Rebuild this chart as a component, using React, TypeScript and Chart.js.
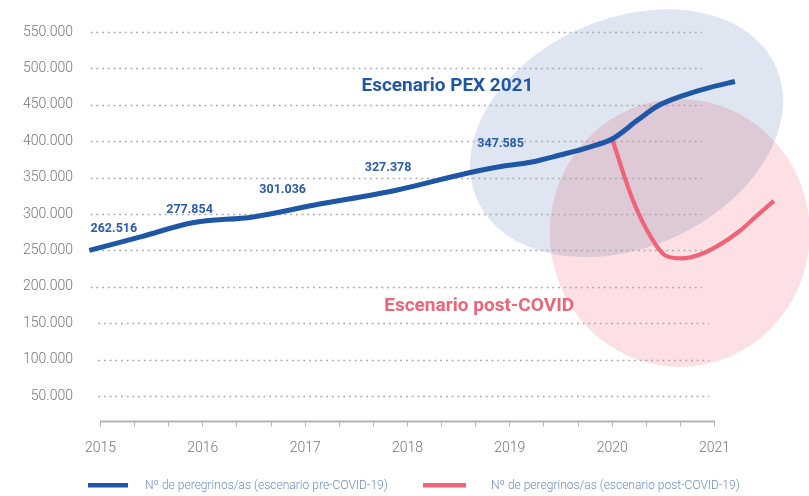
import React, { useEffect, useRef } from "react";
import { Chart, registerables } from "chart.js";

Chart.register(...registerables);

// ---------- data ----------
const yearLabels = [2015, 2016, 2017, 2018, 2019, 2020, 2021];
const yTickValues = [50000, 100000, 150000, 200000, 250000, 300000, 350000, 400000, 450000, 500000, 550000];

const preCovidYears = [2014.89, 2015.4, 2015.9, 2016.49, 2017.08, 2017.9, 2018.58, 2018.9, 2019.2, 2019.49, 2019.78, 2020.0, 2020.25, 2020.44, 2020.7, 2020.96, 2021.2];
const preCovidValues = [250000, 269000, 288000, 296000, 312000, 333000, 356000, 365000, 371000, 381000, 392000, 403000, 429000, 448000, 463000, 474000, 482000];

const postCovidYears = [2020.0, 2020.2, 2020.38, 2020.52, 2020.68, 2020.85, 2021.04, 2021.24, 2021.42, 2021.58];
const postCovidValues = [403000, 320000, 268000, 243000, 239000, 244000, 257000, 276000, 298500, 318000];

const pilgrimLabels = ["262.516", "277.854", "301.036", "327.378", "347.585"];
const pilgrimLabelYears = [2015.13, 2015.87, 2016.78, 2017.81, 2018.91];
const pilgrimLabelValues = [279000, 305500, 333000, 363600, 396000];

const scenarioNames = ["Escenario PEX 2021", "Escenario post-COVID"];
const scenarioYears = [2018.39, 2018.7];
const scenarioValues = [475300, 173600];

const ellipseYears = [2020.14, 2020.66];
const ellipseValues = [411000, 274000];

const legendLabels = [
  "Nº de peregrinos/as (escenario pre-COVID-19)",
  "Nº de peregrinos/as (escenario post-COVID-19)",
];

// ---------- styles ----------
const BLUE = "#1f57a7";
const RED = "#ef6479";
const FONT = "Roboto, 'Noto Sans', sans-serif";
const AXIS_GREY = "#b3b3b3";

const fmt = (v: number) => String(Math.round(v)).replace(/\B(?=(\d{3})+(?!\d))/g, ".");

function fitSize(ctx: CanvasRenderingContext2D, text: string, weight: string, target: number) {
  ctx.font = `${weight} 20px ${FONT}`;
  const w = ctx.measureText(text).width || 1;
  return (20 * target) / w;
}

const firstYear = yearLabels[0];
const lastYear = yearLabels[yearLabels.length - 1];

const decorPlugin = {
  id: "decor",
  beforeDatasetsDraw(chart: any) {
    const { ctx, chartArea, scales } = chart;
    const x = scales.x;
    const y = scales.y;
    // background ellipses
    ctx.save();
    ctx.beginPath();
    ctx.ellipse(
      x.getPixelForValue(ellipseYears[0]),
      y.getPixelForValue(ellipseValues[0]),
      163.6,
      114.4,
      (-24 * Math.PI) / 180,
      0,
      Math.PI * 2
    );
    ctx.fillStyle = "#dfe6f1";
    ctx.fill();
    ctx.globalCompositeOperation = "multiply";
    ctx.beginPath();
    ctx.ellipse(
      x.getPixelForValue(ellipseYears[1]),
      y.getPixelForValue(ellipseValues[1]),
      130,
      134,
      0,
      0,
      Math.PI * 2
    );
    ctx.fillStyle = "#fde0e3";
    ctx.fill();
    ctx.restore();

    const gx0 = x.getPixelForValue(firstYear);
    const gx1 = x.getPixelForValue(lastYear);

    // dotted grid lines
    ctx.save();
    ctx.strokeStyle = "#a6a6ab";
    ctx.lineWidth = 1.4;
    ctx.setLineDash([1.8, 3.9]);
    for (const v of yTickValues) {
      const py = Math.round(y.getPixelForValue(v)) + 0.5;
      const off = v <= 150000 ? 7.5 : 0;
      ctx.beginPath();
      ctx.moveTo(gx0 - 9.8 + off, py);
      ctx.lineTo(gx1 - 12.8 + off, py);
      ctx.stroke();
    }
    ctx.restore();

    // x axis line (2015 – 2021)
    ctx.save();
    ctx.strokeStyle = AXIS_GREY;
    ctx.lineWidth = 2;
    ctx.beginPath();
    ctx.moveTo(gx0 - 0.5, chartArea.bottom);
    ctx.lineTo(gx1 + 0.5, chartArea.bottom);
    ctx.stroke();
    ctx.restore();
  },
  afterDatasetsDraw(chart: any) {
    const { ctx, scales } = chart;
    const x = scales.x;
    const y = scales.y;
    ctx.save();
    ctx.textAlign = "center";
    ctx.textBaseline = "middle";
    // value labels
    ctx.fillStyle = "#2a5caa";
    ctx.font = `bold 12.5px ${FONT}`;
    pilgrimLabels.forEach((t, i) => {
      ctx.fillText(t, x.getPixelForValue(pilgrimLabelYears[i]), y.getPixelForValue(pilgrimLabelValues[i]));
    });
    // scenario titles
    const targets = [172, 190];
    const colors = [BLUE, RED];
    scenarioNames.forEach((t, i) => {
      const s = fitSize(ctx, t, "bold", targets[i]);
      ctx.font = `bold ${s}px ${FONT}`;
      ctx.fillStyle = colors[i];
      ctx.fillText(t, x.getPixelForValue(scenarioYears[i]), y.getPixelForValue(scenarioValues[i]));
    });
    ctx.restore();
  },
  afterDraw(chart: any) {
    const { ctx } = chart;
    ctx.save();
    const boxes = [
      { x: 88, w: 40, tx: 145, tw: 243, c: BLUE },
      { x: 423, w: 43, tx: 491, tw: 249, c: RED },
    ];
    ctx.textAlign = "left";
    ctx.textBaseline = "middle";
    boxes.forEach((b, i) => {
      ctx.fillStyle = b.c;
      ctx.fillRect(b.x, 483, b.w, 4.5);
      const s = fitSize(ctx, legendLabels[i], "300", b.tw);
      ctx.font = `300 ${s}px ${FONT}`;
      ctx.fillStyle = "#6a8dcb";
      ctx.fillText(legendLabels[i], b.tx, 485.5);
    });
    ctx.restore();
  },
};

export default function App() {
  const ref = useRef<HTMLCanvasElement | null>(null);

  useEffect(() => {
    if (!ref.current) return;
    const chart = new Chart(ref.current, {
      type: "line",
      data: {
        datasets: [
          {
            label: legendLabels[0],
            data: preCovidYears.map((yr, i) => ({ x: yr, y: preCovidValues[i] })),
            borderColor: BLUE,
            borderWidth: 5,
            pointRadius: 0,
            tension: 0.4,
            cubicInterpolationMode: "monotone",
            clip: false as any,
            fill: false,
          },
          {
            label: legendLabels[1],
            data: postCovidYears.map((yr, i) => ({ x: yr, y: postCovidValues[i] })),
            borderColor: RED,
            borderWidth: 4.2,
            pointRadius: 0,
            tension: 0.4,
            cubicInterpolationMode: "monotone",
            clip: false as any,
            fill: false,
          },
        ],
      },
      options: {
        animation: false,
        responsive: false,
        maintainAspectRatio: false,
        layout: { padding: { top: 13.8, right: 28, left: 0, bottom: 0 } },
        plugins: {
          legend: { display: false },
          tooltip: { enabled: false },
        },
        scales: {
          x: {
            type: "linear",
            min: 2014.731,
            max: 2021.65,
            afterBuildTicks: (scale: any) => {
              const ticks: { value: number }[] = [];
              for (let i = 0; i < yearLabels.length; i++) {
                ticks.push({ value: yearLabels[i] });
                if (i < yearLabels.length - 1) {
                  ticks.push({ value: yearLabels[i] + 1 / 3 });
                  ticks.push({ value: yearLabels[i] + 2 / 3 });
                }
              }
              scale.ticks = ticks;
            },
            afterFit: (scale: any) => {
              scale.height = 74.5;
            },
            ticks: {
              autoSkip: false,
              maxRotation: 0,
              padding: 14,
              color: "#777",
              font: { family: FONT, size: 14, weight: "300" as any },
              callback: (v: any) => {
                const n = Number(v);
                return Math.abs(n - Math.round(n)) < 1e-6 ? String(Math.round(n)) : "";
              },
            },
            grid: {
              display: true,
              drawOnChartArea: false,
              drawTicks: true,
              tickLength: 5,
              color: AXIS_GREY,
              lineWidth: 1,
            },
            border: { display: false },
          },
          y: {
            type: "linear",
            min: 15000,
            max: 575000,
            afterBuildTicks: (scale: any) => {
              scale.ticks = yTickValues.map((v) => ({ value: v }));
            },
            afterFit: (scale: any) => {
              scale.width = 73;
            },
            ticks: {
              padding: 0,
              color: "#777",
              font: { family: FONT, size: 14, weight: "300" as any },
              callback: (v: any) => fmt(Number(v)),
            },
            grid: { display: false, drawTicks: false },
            border: { display: false },
          },
        },
      },
      plugins: [decorPlugin],
    });
    return () => chart.destroy();
  }, []);

  return (
    <div style={{ position: "fixed", left: 0, top: 0, width: 809, height: 496, background: "#fff" }}>
      <canvas ref={ref} width={809} height={496} style={{ width: 809, height: 496, display: "block" }} />
    </div>
  );
}
